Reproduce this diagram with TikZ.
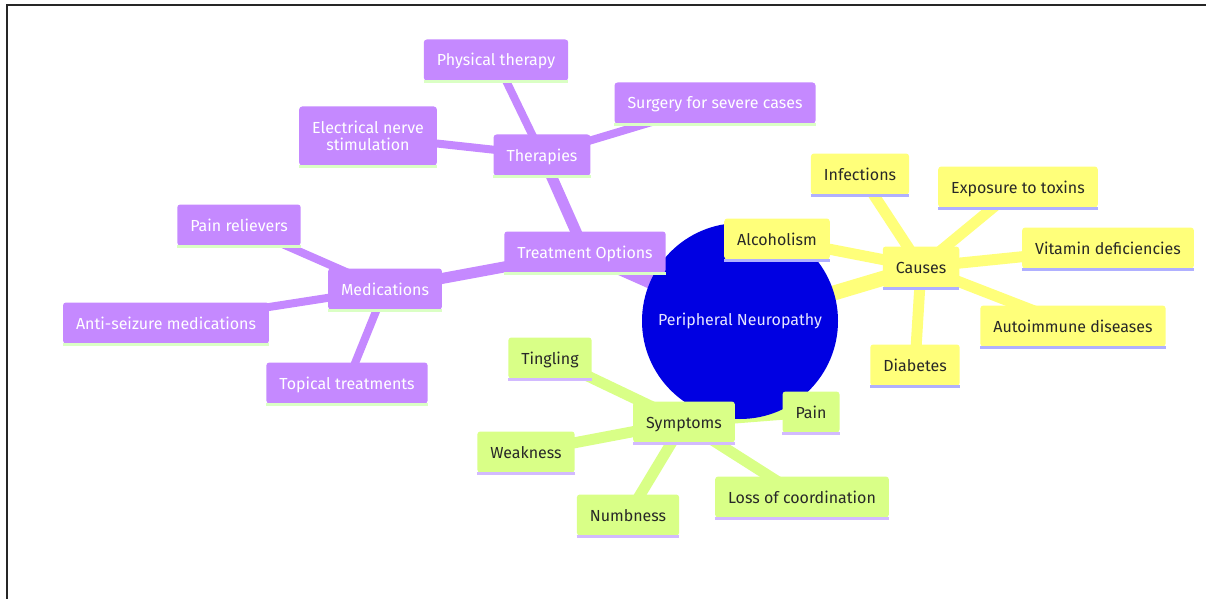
\documentclass[tikz,border=0pt]{standalone}
\usepackage{fontspec}
\setmainfont{Fira Sans}
\usetikzlibrary{positioning,shapes,backgrounds}
\definecolor{rootblue}{RGB}{0,0,226}
\definecolor{mmpurple}{RGB}{197,137,255}
\definecolor{mmyellow}{RGB}{255,255,122}
\definecolor{mmgreen}{RGB}{217,255,135}
\definecolor{lnpurple}{RGB}{218,255,196}
\definecolor{lnyellow}{RGB}{176,176,255}
\definecolor{lngreen}{RGB}{210,186,255}
\definecolor{darktext}{RGB}{40,40,40}
\newcommand{\mmfont}{\fontsize{16}{18}\selectfont}
\tikzset{
        every node/.style={font=\mmfont}, % same text size everywhere
        box/.style={rectangle, rounded corners=3pt, minimum height=41pt, inner xsep=13pt, inner ysep=0pt, align=center, text height=14pt, text depth=2pt},
        purplebox/.style={box, fill=mmpurple, text=white,
            append after command={([yshift=-1pt]\tikzlastnode.south west) edge[draw=lnpurple, line width=3pt, rounded corners=0pt] ([yshift=-1pt]\tikzlastnode.south east)}},
        yellowbox/.style={box, fill=mmyellow, text=darktext,
            append after command={([yshift=-1pt]\tikzlastnode.south west) edge[draw=lnyellow, line width=3pt, rounded corners=0pt] ([yshift=-1pt]\tikzlastnode.south east)}},
        greenbox/.style={box, fill=mmgreen, text=darktext,
            append after command={([yshift=-1pt]\tikzlastnode.south west) edge[draw=lngreen, line width=3pt, rounded corners=0pt] ([yshift=-1pt]\tikzlastnode.south east)}},
        depthone/.style={line width=15pt}, % edges leaving the root
        depthtwo/.style={line width=11pt},
        depththree/.style={line width=8pt},
}

\begin{document}
\begin{tikzpicture}[x=1pt,y=-1pt]
\useasboundingbox (0,0) rectangle (1207,599);
\draw[line width=1.5pt, black!85] (7,599) -- (7,5) -- (1206,5);

% root
\node[circle, fill=rootblue, text=white!90!blue, minimum size=196pt, inner sep=0pt] (root) at (740,321) {Peripheral Neuropathy};

% treatment options
\node[purplebox] (treat) at (585,252) {Treatment Options};
\node[purplebox] (therap) at (542,155) {Therapies};
\node[purplebox] (phys) at (496,60) {Physical therapy};
\node[purplebox] (surg) at (715,103) {Surgery for severe cases};
\node[purplebox, minimum height=59pt, text height=, text depth=] (elec) at (368,136) {Electrical nerve\\[-1pt]stimulation};
\node[purplebox] (meds) at (385,289) {Medications};
\node[purplebox] (painrel) at (239,225) {Pain relievers};
\node[purplebox] (anti) at (166,323) {Anti-seizure medications};
\node[purplebox] (topic) at (347,383) {Topical treatments};

% causes
\node[yellowbox] (causes) at (921,267) {Causes};
\node[yellowbox] (infect) at (860,174) {Infections};
\node[yellowbox] (toxin) at (1018,187) {Exposure to toxins};
\node[yellowbox] (alcohol) at (777,239) {Alcoholism};
\node[yellowbox] (vitamin) at (1108,248) {Vitamin deficiencies};
\node[yellowbox] (autoimm) at (1073,326) {Autoimmune diseases};
\node[yellowbox] (diab) at (915,365) {Diabetes};

% symptoms
\node[greenbox] (sympt) at (684,422) {Symptoms};
\node[greenbox] (tingle) at (550,358) {Tingling};
\node[greenbox] (weak) at (526,452) {Weakness};
\node[greenbox] (numb) at (628,515) {Numbness};
\node[greenbox] (coord) at (802,497) {Loss of coordination};
\node[greenbox] (pain) at (811,412) {Pain};

\begin{pgfonlayer}{background}
\draw[depthone, mmpurple] (root.center) -- (treat.center);
\draw[depthone, mmyellow] (root.center) -- (causes.center);
\draw[depthone, mmgreen] (root.center) -- (sympt.center);
\draw[depthtwo, mmpurple] (treat.center) -- (therap.center);
\draw[depthtwo, mmpurple] (treat.center) -- (meds.center);
\foreach \leaf in {phys,surg,elec}
  \draw[depththree, mmpurple] (therap.center) -- (\leaf.center);
\foreach \leaf in {painrel,anti,topic}
  \draw[depththree, mmpurple] (meds.center) -- (\leaf.center);
\foreach \leaf in {infect,toxin,alcohol,vitamin,autoimm,diab}
  \draw[depthtwo, mmyellow] (causes.center) -- (\leaf.center);
\foreach \leaf in {tingle,weak,numb,coord,pain}
  \draw[depthtwo, mmgreen] (sympt.center) -- (\leaf.center);
\end{pgfonlayer}
\end{tikzpicture}
\end{document}
